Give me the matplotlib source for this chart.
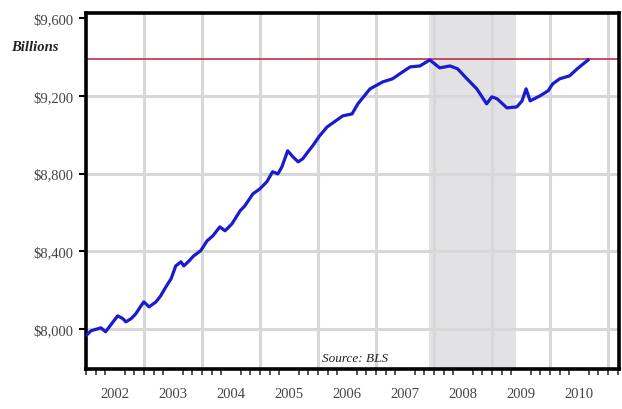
import matplotlib.pyplot as plt

# Traced series (decimal year, $ billions)
years = [2002.00, 2002.09, 2002.26, 2002.34, 2002.47, 2002.55, 2002.64, 2002.69,
         2002.78, 2002.86, 2002.95, 2003.00, 2003.09, 2003.21, 2003.29, 2003.38,
         2003.47, 2003.55, 2003.64, 2003.69, 2003.78, 2003.86, 2003.98, 2004.09,
         2004.19, 2004.31, 2004.40, 2004.52, 2004.66, 2004.74, 2004.88, 2005.00,
         2005.12, 2005.22, 2005.31, 2005.38, 2005.48, 2005.57, 2005.66, 2005.74,
         2005.83, 2005.91, 2006.03, 2006.16, 2006.43, 2006.59, 2006.69, 2006.90,
         2007.12, 2007.29, 2007.41, 2007.59, 2007.76, 2007.93, 2008.10, 2008.28,
         2008.41, 2008.57, 2008.74, 2008.91, 2009.00, 2009.09, 2009.26, 2009.43,
         2009.52, 2009.59, 2009.66, 2009.83, 2009.97, 2010.05, 2010.17, 2010.34,
         2010.47, 2010.66]
values = [7964, 7990, 8005, 7985, 8036, 8067, 8052, 8036,
          8052, 8077, 8118, 8139, 8113, 8139, 8170, 8216,
          8258, 8324, 8345, 8324, 8350, 8376, 8402, 8453,
          8479, 8525, 8505, 8541, 8608, 8633, 8695, 8721,
          8757, 8809, 8798, 8834, 8917, 8886, 8860, 8876,
          8912, 8942, 8994, 9040, 9097, 9107, 9159, 9236,
          9272, 9288, 9313, 9349, 9354, 9385, 9344, 9354,
          9339, 9288, 9236, 9159, 9195, 9185, 9138, 9143,
          9174, 9236, 9174, 9200, 9226, 9262, 9288, 9303,
          9339, 9385]

prior_peak = 9390
recession = (2007.92, 2009.42)

year_labels = ['2002', '2003', '2004', '2005', '2006', '2007', '2008', '2009', '2010']
y_ticks = [8000, 8400, 8800, 9200, 9600]
y_labels = ['$8,000', '$8,400', '$8,800', '$9,200', '$9,600']

plt.rcParams['font.family'] = ['Liberation Serif', 'DejaVu Serif']

fig = plt.figure(figsize=(6.22, 4.10), dpi=100)
ax = fig.add_axes([0.138, 0.098, 0.857, 0.868])

ax.set_xlim(2002.0, 2011.19)
ax.set_ylim(7794, 9627)

# recession shading
ax.axvspan(recession[0], recession[1], color='#e2e2e5', zorder=0, lw=0)

# grid
for i in range(1, len(year_labels) + 1):
    ax.axvline(2002 + i, color='#d8d8d8', lw=2.2, zorder=1)
for v in y_ticks[:-1]:
    ax.axhline(v, color='#d8d8d8', lw=2.2, zorder=1)

ax.axhline(prior_peak, color='#c0304a', lw=1.2, zorder=2)
ax.plot(years, values, color='#1a1ad0', lw=2.3, zorder=3)

# axes frame
for s in ax.spines.values():
    s.set_linewidth(2.6)
    s.set_color('black')

ax.set_yticks(y_ticks)
ax.set_yticklabels(y_labels, fontsize=10.5, color='#444444')
ax.tick_params(axis='y', length=5, width=1.5, pad=4)

ax.set_xticks([2002.5 + i for i in range(len(year_labels))])
ax.set_xticklabels(year_labels, fontsize=10.5, color='#444444')
ax.set_xticks([2002 + m / 6 for m in range(0, 56)], minor=True)
ax.tick_params(axis='x', which='major', length=0, pad=13)
ax.tick_params(axis='x', which='minor', length=4, width=1.2, color='#333333')

fig.text(0.018, 0.883, 'Billions', fontsize=10.5, style='italic', weight='bold',
         color='#222222', ha='left', va='center')
ax.text(2006.65, 7850, 'Source: BLS', fontsize=9.5, style='italic',
        color='#222222', ha='center', va='center', zorder=4)

fig.savefig('out.png', dpi=100)
